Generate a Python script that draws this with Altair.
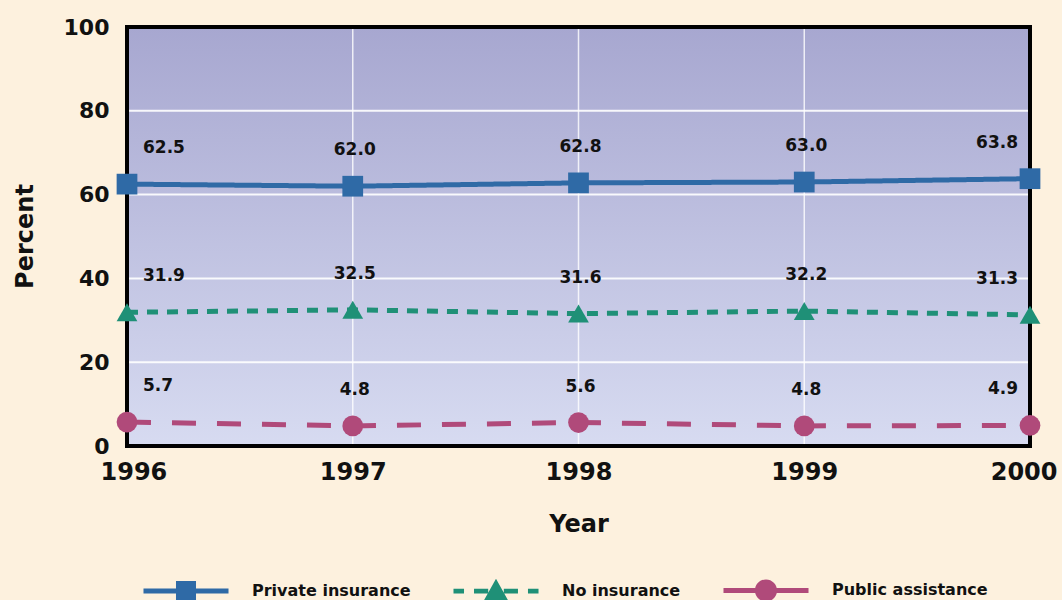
import altair as alt
import pandas as pd

years = [1996, 1997, 1998, 1999, 2000]
series_names = ["Private insurance", "No insurance", "Public assistance"]
private_ins = [62.5, 62.0, 62.8, 63.0, 63.8]
no_ins = [31.9, 32.5, 31.6, 32.2, 31.3]
public_asst = [5.7, 4.8, 5.6, 4.8, 4.9]
y_ticks = [0, 20, 40, 60, 80, 100]
grid_y = [20, 40, 60, 80]

colors = ["#2f6aa6", "#1f9077", "#b04a7a"]
markers = ["square", "triangle-up", "circle"]
dashes = [[1, 0], [11, 9], [24, 21]]
# legend glyphs (unit = 13 px): line with the series marker in the middle
legend_paths = [
    "M-3.27,-0.19H-0.7V0.19H-3.27Z M0.7,-0.19H3.27V0.19H0.7Z M-0.77,-0.77H0.77V0.77H-0.77Z",
    "M-3.27,-0.19H-2.46V0.19H-3.27Z M-1.69,-0.19H-0.6V0.19H-1.69Z M-0.95,0.75L0,-0.95L0.95,0.75Z "
    "M0.6,-0.19H1.69V0.19H0.6Z M2.46,-0.19H3.27V0.19H2.46Z",
    "M-3.27,-0.19H-0.8V0.19H-3.27Z M0.8,-0.19H3.27V0.19H0.8Z "
    "M-0.85,0A0.85,0.85 0 1,1 0.85,0A0.85,0.85 0 1,1 -0.85,0Z",
]

rows = []
for name, vals in zip(series_names, [private_ins, no_ins, public_asst]):
    for yr, v in zip(years, vals):
        rows.append({"series": name, "year": yr, "value": v, "label": f"{v:.1f}"})
df = pd.DataFrame(rows)

W, H = 903, 419
FONT = "DejaVu Sans"

xscale = alt.Scale(domain=[years[0], years[-1]], nice=False, zero=False)
yscale = alt.Scale(domain=[0, 100], nice=False)

x_axis = alt.Axis(values=years, format="d", ticks=False, domain=False, grid=False,
                  labelFlush=True, labelFlushOffset=27, labelFontSize=24, labelFont=FONT,
                  labelFontWeight="bold", labelColor="#111", labelPadding=14,
                  title="Year", titleFontSize=24, titleFont=FONT, titleFontWeight="bold",
                  titleColor="#111", titleY=66)
y_axis = alt.Axis(values=y_ticks, ticks=False, domain=False, grid=False,
                  labelFontSize=22, labelFont=FONT, labelFontWeight="bold",
                  labelColor="#111", labelPadding=18,
                  title="Percent", titleFontSize=24, titleFont=FONT, titleFontWeight="bold",
                  titleColor="#111", titleX=-90, titleY=209)

X = alt.X("year:Q", scale=xscale, axis=x_axis, title="Year")
Y = alt.Y("value:Q", scale=yscale, axis=y_axis, title="Percent")

base = alt.Chart(df)

gradient = alt.Gradient(gradient="linear", x1=0, x2=0, y1=0, y2=1,
                        stops=[alt.GradientStop(offset=0, color="#a7a7d0"),
                               alt.GradientStop(offset=1, color="#d7dbf1")])

frame = pd.DataFrame({"x": [years[0]], "x2": [years[-1]], "y": [y_ticks[0]], "y2": [y_ticks[-1]]})
FX = alt.X("x:Q", scale=xscale, axis=x_axis, title="Year")
FY = alt.Y("y:Q", scale=yscale, axis=y_axis, title="Percent")

bg = alt.Chart(frame).mark_rect(fill=gradient).encode(x=FX, x2="x2:Q", y=FY, y2="y2:Q")

hgrid = alt.Chart(pd.DataFrame({"g": grid_y})).mark_rule(color="white", strokeWidth=2, opacity=0.9).encode(
    y=alt.Y("g:Q", scale=yscale, axis=y_axis, title="Percent"))
vgrid = alt.Chart(pd.DataFrame({"g": years[1:-1]})).mark_rule(color="white", strokeWidth=1.5, opacity=0.8).encode(
    x=alt.X("g:Q", scale=xscale, axis=x_axis, title="Year"))

border = alt.Chart(frame).mark_rect(fillOpacity=0, stroke="black", strokeWidth=4).encode(
    x=FX, x2="x2:Q", y=FY, y2="y2:Q")

series_layers = []
for name, col, mk, dash in zip(series_names, colors, markers, dashes):
    sub = base.transform_filter(alt.datum.series == name)
    series_layers.append(sub.mark_line(strokeWidth=5, color=col, strokeDash=dash).encode(x=X, y=Y))
for name, col, mk, dash in zip(series_names, colors, markers, dashes):
    sub = base.transform_filter(alt.datum.series == name)
    series_layers.append(sub.mark_point(filled=True, opacity=1, size=430, shape=mk, color=col).encode(x=X, y=Y))

text_style = dict(font=FONT, fontWeight="bold", fontSize=17, color="#111", baseline="middle", dy=-36)
labels_first = base.transform_filter(alt.datum.year == years[0]).mark_text(align="left", dx=16, **text_style).encode(
    x=X, y=Y, text="label:N")
labels_mid = base.transform_filter((alt.datum.year > years[0]) & (alt.datum.year < years[-1])).mark_text(
    align="center", dx=2, **text_style).encode(x=X, y=Y, text="label:N")
labels_last = base.transform_filter(alt.datum.year == years[-1]).mark_text(align="right", dx=-12, **text_style).encode(
    x=X, y=Y, text="label:N")

leg = alt.Legend(title=None, orient="none", legendX=46, legendY=550, direction="horizontal",
                 padding=0, symbolSize=676, symbolStrokeWidth=0, labelFont=FONT, labelFontWeight="bold",
                 labelFontSize=16, labelColor="#111", labelOffset=53, columnPadding=42)
legend_layer = base.transform_filter("datum.year < 0").mark_point(filled=True, opacity=1).encode(
    x=X, y=Y,
    fill=alt.Fill("series:N", scale=alt.Scale(domain=series_names, range=colors), legend=leg),
    shape=alt.Shape("series:N", scale=alt.Scale(domain=series_names, range=legend_paths), legend=leg),
)

chart = alt.layer(bg, hgrid, vgrid, border, *series_layers, labels_first, labels_mid, labels_last,
                  legend_layer).properties(
    width=W, height=H,
    autosize=alt.AutoSizeParams(type="none"),
    padding={"left": 127, "top": 27, "right": 32, "bottom": 154},
    background="#fdf1de",
).configure_view(stroke=None)

chart.save("out.html", embed_options={"renderer": "svg", "actions": False})
